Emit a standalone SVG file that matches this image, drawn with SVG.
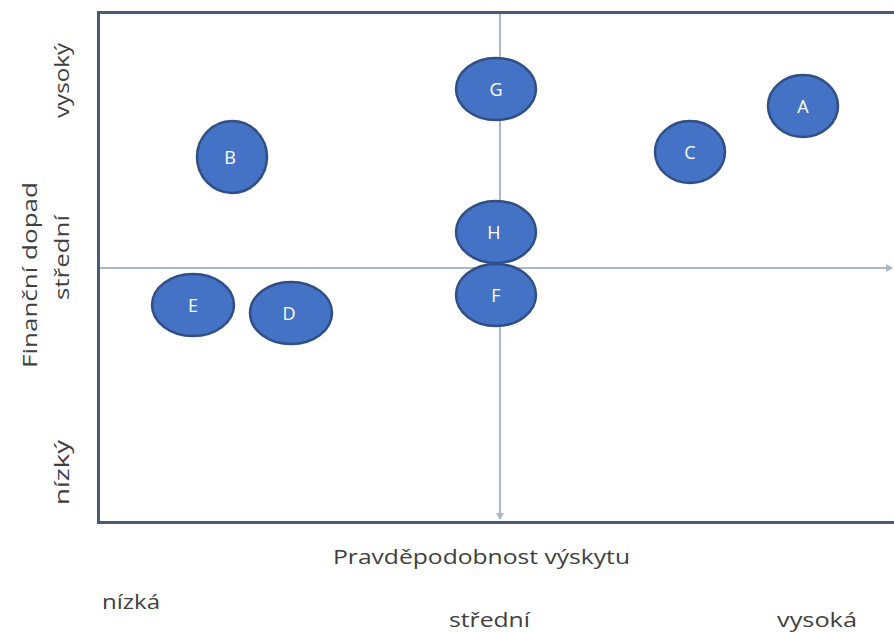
<svg xmlns="http://www.w3.org/2000/svg" width="894" height="632" viewBox="0 0 894 632">
<defs>
<style>
.node ellipse{fill:#4472c4;stroke:#2f4f86;stroke-width:2.5}
.node text{fill:#ffffff;font-family:"Open Sans","Liberation Sans",sans-serif;font-size:18px;text-anchor:middle;dominant-baseline:central}
.lbl{fill:#404040;font-family:"Open Sans","Liberation Sans",sans-serif;font-size:20px}
.frame{stroke:#4a5a74;stroke-width:3;fill:none}
.mid{stroke:#a9b7c6;stroke-width:2;fill:none}
</style>
<marker id="arr" markerWidth="8" markerHeight="8" refX="6" refY="4" orient="auto" markerUnits="userSpaceOnUse">
<path d="M0,0 L7,4 L0,8 Z" fill="#a9b7c6"/>
</marker>
</defs>
<rect width="894" height="632" fill="#ffffff"/>
<g id="connectors">
<line class="mid" x1="99" y1="268" x2="892" y2="268" marker-end="url(#arr)"/>
<line class="mid" x1="500" y1="13" x2="500" y2="519" marker-end="url(#arr)"/>
<path class="frame" d="M894,12.5 H98.5 V522.5 H894"/>
</g>
<g id="G" class="node"><ellipse cx="496" cy="89" rx="40" ry="31"/><text x="496" y="89">G</text></g>
<g id="A" class="node"><ellipse cx="803" cy="106" rx="35" ry="31"/><text x="803" y="106">A</text></g>
<g id="C" class="node"><ellipse cx="690" cy="152" rx="35" ry="31"/><text x="690" y="152">C</text></g>
<g id="B" class="node"><ellipse cx="232" cy="157" rx="35" ry="36"/><text x="230" y="157">B</text></g>
<g id="H" class="node"><ellipse cx="496" cy="232" rx="40" ry="31"/><text x="494" y="232">H</text></g>
<g id="F" class="node"><ellipse cx="496" cy="295" rx="40" ry="31"/><text x="496" y="295">F</text></g>
<g id="E" class="node"><ellipse cx="193" cy="305" rx="41" ry="31"/><text x="193" y="305">E</text></g>
<g id="D" class="node"><ellipse cx="291" cy="313" rx="41" ry="31"/><text x="289" y="313">D</text></g>
<g id="labels">
<text class="lbl" transform="translate(69,118) rotate(-90)" textLength="75" lengthAdjust="spacingAndGlyphs">vysoký</text>
<text class="lbl" transform="translate(37,368) rotate(-90)" textLength="186" lengthAdjust="spacingAndGlyphs">Finanční dopad</text>
<text class="lbl" transform="translate(69,300) rotate(-90)" textLength="85" lengthAdjust="spacingAndGlyphs">střední</text>
<text class="lbl" transform="translate(69,505) rotate(-90)" textLength="65" lengthAdjust="spacingAndGlyphs">nízký</text>
<text class="lbl" x="333" y="564" textLength="297" lengthAdjust="spacingAndGlyphs">Pravděpodobnost výskytu</text>
<text class="lbl" x="102" y="609" textLength="58" lengthAdjust="spacingAndGlyphs">nízká</text>
<text class="lbl" x="449" y="627" textLength="81" lengthAdjust="spacingAndGlyphs">střední</text>
<text class="lbl" x="777" y="627" textLength="80" lengthAdjust="spacingAndGlyphs">vysoká</text>
</g>
</svg>
